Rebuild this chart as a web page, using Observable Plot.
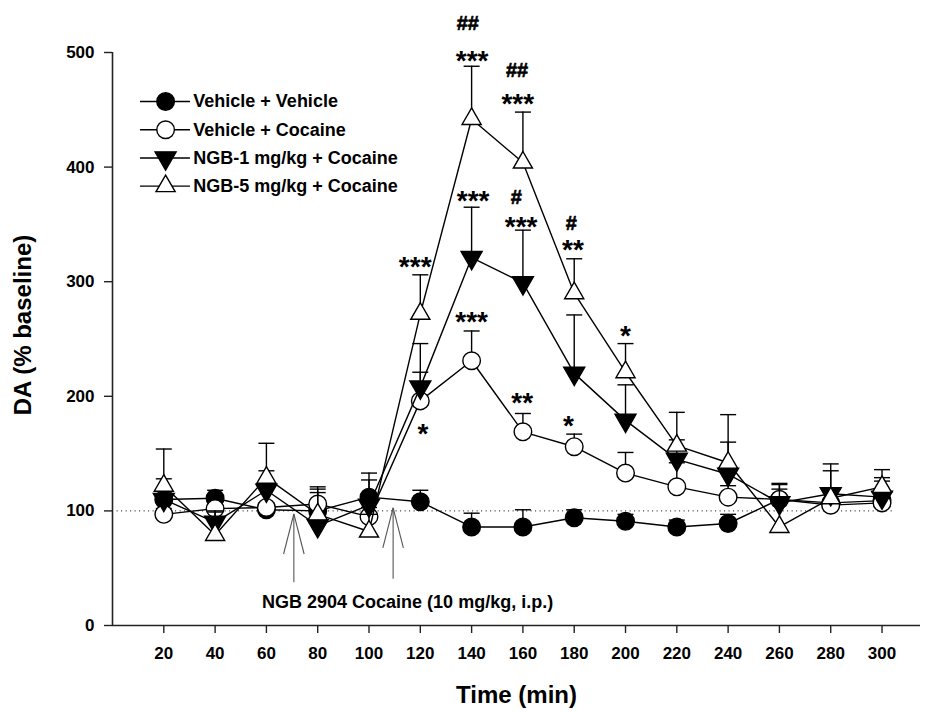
<!DOCTYPE html>
<html>
<head>
<meta charset="utf-8">
<script src="https://cdn.jsdelivr.net/npm/d3@7"></script>
<script src="https://cdn.jsdelivr.net/npm/@observablehq/plot@0.6"></script>
<style>
  html, body { margin: 0; padding: 0; background: #fff; }
  #chart svg { display: block; }
</style>
</head>
<body>
<div id="chart"></div>
<script>
// ---------- data ----------
const seriesNames = ["Vehicle + Vehicle", "Vehicle + Cocaine", "NGB-1 mg/kg + Cocaine", "NGB-5 mg/kg + Cocaine"];
const times = [20, 40, 60, 80, 100, 120, 140, 160, 180, 200, 220, 240, 260, 280, 300];

const vehVeh     = [110, 111, 101, 100, 112, 108, 86, 86, 94, 91, 86, 89, 110, 107, 109];
const vehVehErr  = [8, 7, 5, 8, 21, 10, 12, 15, 7, 6, 6, 8, 13, 10, 10];
const vehCoc     = [97, 102, 103, 106, 95, 196, 231, 169, 156, 133, 121, 112, 110, 105, 107];
const vehCocErr  = [5, 8, 4, 15, 8, 25, 26, 16, 11, 18, 21, 10, 14, 14, 19];
const ngb1       = [110, 90, 118, 87, 105, 208, 321, 299, 220, 179, 145, 132, 107, 115, 112];
const ngb1Err    = [18, 10, 17, 29, 22, 38, 44, 46, 51, 31, 17, 28, 12, 20, 17];
const ngb5       = [122, 79, 129, 97, 82, 272, 442, 404, 290, 221, 157, 142, 86, 111, 121];
const ngb5Err    = [32, 20, 30, 22, 15, 34, 46, 44, 30, 25, 29, 42, 25, 30, 15];

const values = [vehVeh, vehCoc, ngb1, ngb5];
const errors = [vehVehErr, vehCocErr, ngb1Err, ngb5Err];

const xTicks = [20, 40, 60, 80, 100, 120, 140, 160, 180, 200, 220, 240, 260, 280, 300];
const yTicks = [0, 100, 200, 300, 400, 500];

// significance annotations
const starX    = [118, 121, 140, 140.6, 140.2, 159.7, 159.3, 158, 177.8, 179.5, 200];
const starY    = [319, 173, 271, 376.5, 499, 200.6, 354, 460.8, 180.3, 333.8, 258.8];
const starText = ["***", "*", "***", "***", "***", "**", "***", "***", "*", "**", "*"];
const hashX    = [138.5, 157.7, 157.4, 178.9];
const hashY    = [525.4, 484, 373.5, 350.9];
const hashText = ["##", "##", "#", "#"];

// injection arrows
const arrowX    = [70.7, 109.4];
const arrowTip  = [97.4, 102.7];
const arrowBase = [37.8, 40.7];
const injectionLabel = "NGB 2904 Cocaine (10 mg/kg, i.p.)";

// ---------- build ----------
const rows = seriesNames.flatMap((s, i) =>
  times.map((t, j) => ({series: s, si: i, t, v: values[i][j], hi: values[i][j] + errors[i][j]})));

const downTriangle = {
  draw(ctx, size) {
    const y = Math.sqrt(size / (3 * Math.sqrt(3)));
    ctx.moveTo(0, 2 * y);
    ctx.lineTo(-Math.sqrt(3) * y, -y);
    ctx.lineTo(Math.sqrt(3) * y, -y);
    ctx.closePath();
  }
};
const capSymbol = {
  draw(ctx, size) {
    const w = Math.sqrt(size / Math.PI);
    ctx.moveTo(-w, 0);
    ctx.lineTo(w, 0);
  }
};

const styles = [
  {symbol: "circle", fill: "black", r: 8.8},
  {symbol: "circle", fill: "white", r: 8.8},
  {symbol: downTriangle, fill: "black", r: 7.8},
  {symbol: "triangle", fill: "white", r: 7.1}
];

const FONT = "'Liberation Sans', Arial, Helvetica, sans-serif";

const seriesMarks = seriesNames.flatMap((s, i) => {
  const d = rows.filter(r => r.si === i);
  return [
    Plot.line(d, {x: "t", y: "v", stroke: "black", strokeWidth: 1.4}),
    Plot.ruleX(d, {x: "t", y1: "v", y2: "hi", stroke: "black", strokeWidth: 1.4}),
    Plot.dot(d, {x: "t", y: "hi", symbol: capSymbol, r: 8, stroke: "black", strokeWidth: 1.4, fill: "none"}),
    Plot.dot(d, {x: "t", y: "v", symbol: styles[i].symbol, r: styles[i].r, fill: styles[i].fill, stroke: "black", strokeWidth: 1.4})
  ];
});

// legend (in data units, upper-left of the plot)
const legendRowY = seriesNames.map((s, i) => 457.2 - i * 24.6);
const legendData = seriesNames.map((s, i) => ({name: s, i, y: legendRowY[i]}));
const legendMarks = [
  Plot.ruleY(legendData, {y: "y", x1: 10.9, x2: 30.4, stroke: "black", strokeWidth: 1.4}),
  ...legendData.map(d => Plot.dot([d], {x: 20.7, y: "y", symbol: styles[d.i].symbol, r: styles[d.i].r, fill: styles[d.i].fill, stroke: "black", strokeWidth: 1.4})),
  Plot.text(legendData, {x: 31.5, y: "y", text: "name", textAnchor: "start", lineAnchor: "middle", fontSize: 18, fontWeight: "bold", fill: "black"})
];

const arrowData = arrowX.map((x, i) => ({x, tip: arrowTip[i], base: arrowBase[i]}));
const headHalf = 4.0, headLen = 35;
const arrowMarks = [
  Plot.link(arrowData, {x1: "x", x2: "x", y1: "base", y2: "tip", stroke: "#555", strokeWidth: 1.1}),
  Plot.link(arrowData, {x1: d => d.x - headHalf, y1: d => d.tip - headLen, x2: "x", y2: "tip", stroke: "#555", strokeWidth: 1.1}),
  Plot.link(arrowData, {x1: d => d.x + headHalf, y1: d => d.tip - headLen, x2: "x", y2: "tip", stroke: "#555", strokeWidth: 1.1})
];

const starData = starX.map((x, i) => ({x, y: starY[i], t: starText[i]}));
const hashData = hashX.map((x, i) => ({x, y: hashY[i], t: hashText[i]}));

const chart = Plot.plot({
  width: 925,
  height: 712,
  marginLeft: 112,
  marginRight: 5,
  marginTop: 52,
  marginBottom: 87,
  style: {fontFamily: FONT, background: "white", color: "black"},
  x: {domain: [0, 315]},
  y: {domain: [0, 500]},
  marks: [
    Plot.ruleY([100], {x1: 1.8, x2: 304, stroke: "black", strokeWidth: 1, strokeDasharray: "1,3.5"}),
    Plot.ruleY([0], {stroke: "#222", strokeWidth: 1.6}),
    Plot.ruleX([0], {y1: 0, y2: 500, stroke: "#222", strokeWidth: 1.6}),
    Plot.axisX({ticks: xTicks, tickSize: 8, tickPadding: 13, fontSize: 17, fontWeight: "bold", label: null, stroke: "#222", strokeWidth: 1.4}),
    Plot.axisY({ticks: yTicks, tickSize: 8, tickPadding: 10, fontSize: 17, fontWeight: "bold", label: null, stroke: "#222", strokeWidth: 1.4}),
    Plot.text(["Time (min)"], {frameAnchor: "bottom", dy: 70, lineAnchor: "middle", fontSize: 24, fontWeight: "bold", fill: "black"}),
    Plot.text(["DA (% baseline)"], {frameAnchor: "left", dx: -89, dy: -14, rotate: -90, textAnchor: "middle", lineAnchor: "middle", fontSize: 24, fontWeight: "bold", fill: "black"}),
    ...arrowMarks,
    Plot.text([injectionLabel], {x: 58.3, y: 20.3, textAnchor: "start", lineAnchor: "middle", fontSize: 18, fontWeight: "bold", fill: "black"}),
    ...seriesMarks,
    ...legendMarks,
    Plot.text(starData, {x: "x", y: "y", text: "t", lineAnchor: "middle", dy: 7, fontSize: 28, fontWeight: "bold", fill: "black"}),
    Plot.text(hashData, {x: "x", y: "y", text: "t", lineAnchor: "middle", fontSize: 20, fontWeight: "bold", fill: "black", stroke: "black", strokeWidth: 0.6})
  ]
});
document.getElementById("chart").appendChild(chart);
</script>
</body>
</html>
